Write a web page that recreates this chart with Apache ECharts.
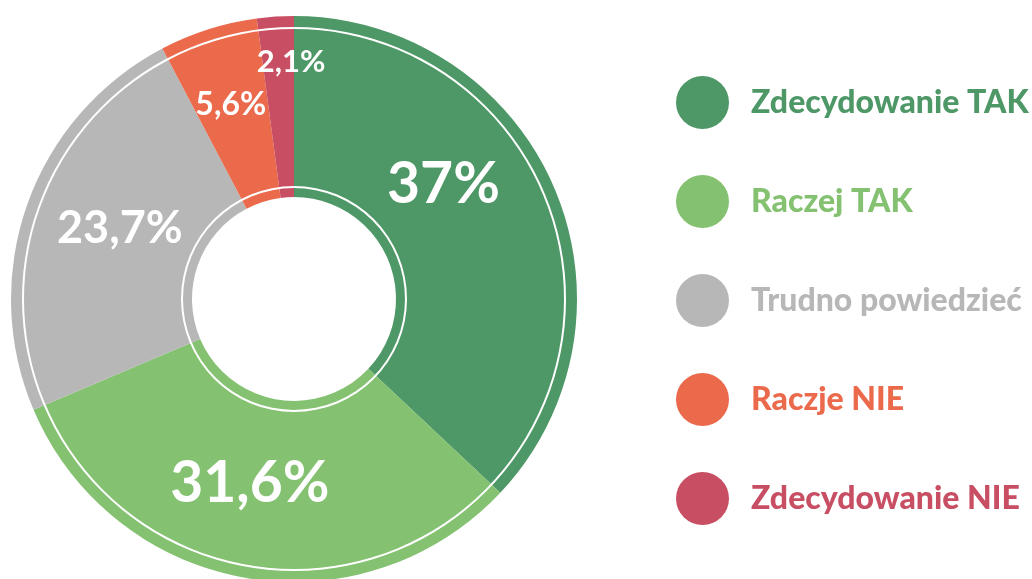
<!DOCTYPE html>
<html>
<head>
<meta charset="utf-8">
<script src="https://cdn.jsdelivr.net/npm/echarts@6/dist/echarts.min.js"></script>
<style>
  html, body { margin: 0; padding: 0; background: #ffffff; }
  #chart { width: 1032px; height: 579px; }
</style>
</head>
<body>
<div id="chart"></div>
<script>
// Answer categories and their shares (percent)
const categories = ['Zdecydowanie TAK', 'Raczej TAK', 'Trudno powiedzieć', 'Raczje NIE', 'Zdecydowanie NIE'];
const shares = [37, 31.6, 23.7, 5.6, 2.1];

// Styling per slice
const colors = ['#4E9867', '#84C171', '#B7B7B7', '#EC6A4C', '#C84F63'];
const labelSizes = [57, 57, 45, 32, 31];
const labelOffsets = [[-30, -37], [-10, -8], [10, -5], [-4, -8], [10, -42]];

const FONT = 'Lato, "Noto Sans", sans-serif';
const CENTER = [294, 299];

const fmt = v => String(v).replace('.', ',') + '%';

const sliceData = categories.map((name, i) => ({
  name,
  value: shares[i],
  itemStyle: { color: colors[i] },
  label: { fontSize: labelSizes[i], offset: labelOffsets[i] }
}));

// thin white circle drawn on top of the donut
const whiteRing = (r) => ({
  type: 'pie',
  silent: true,
  center: CENTER,
  radius: [r - 1, r + 1],
  label: { show: false },
  labelLine: { show: false },
  emphasis: { disabled: true },
  animation: false,
  z: 5,
  data: [{ value: 1, name: '', itemStyle: { color: '#ffffff' } }]
});

const chart = echarts.init(document.getElementById('chart'), null, { renderer: 'canvas' });
chart.setOption({
  backgroundColor: '#ffffff',
  animation: false,
  legend: {
    orient: 'vertical',
    left: 676,
    top: 76,
    padding: 0,
    icon: 'circle',
    itemWidth: 53,
    itemHeight: 53,
    itemGap: 46,
    selectedMode: false,
    data: categories.map((name, i) => ({
      name,
      textStyle: { color: colors[i] }
    })),
    textStyle: {
      fontFamily: FONT,
      fontWeight: 900,
      fontSize: 32,
      padding: [0, 0, 0, 17]
    }
  },
  series: [
    {
      type: 'pie',
      center: CENTER,
      radius: [102, 283],
      startAngle: 90,
      clockwise: true,
      avoidLabelOverlap: false,
      label: {
        show: true,
        position: 'inside',
        color: '#ffffff',
        fontFamily: FONT,
        fontWeight: 'bold',
        formatter: p => fmt(p.value)
      },
      labelLine: { show: false },
      emphasis: { disabled: true },
      itemStyle: { borderWidth: 0 },
      data: sliceData
    },
    whiteRing(112),
    whiteRing(271)
  ]
});
</script>
</body>
</html>
